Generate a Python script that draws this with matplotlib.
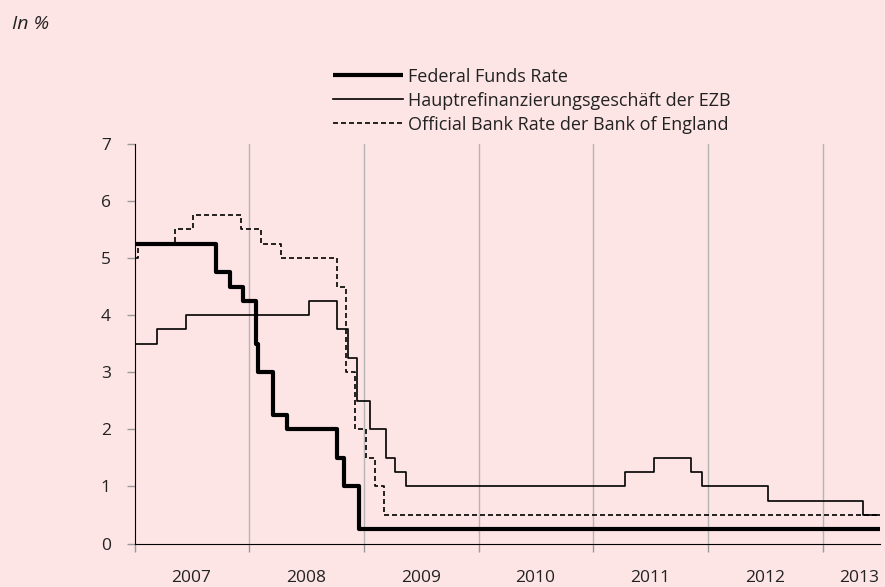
import datetime as dt
import matplotlib
matplotlib.use('Agg')
import matplotlib.pyplot as plt

# Leitzinsen, Stufen jeweils ab Datum gueltig
fed_dates = ['2007-01-01', '2007-09-18', '2007-10-31', '2007-12-11', '2008-01-22', '2008-01-30',
             '2008-03-18', '2008-04-30', '2008-10-08', '2008-10-29', '2008-12-16', '2013-07-01']
fed_rates = [5.25, 4.75, 4.5, 4.25, 3.5, 3.0, 2.25, 2.0, 1.5, 1.0, 0.25, 0.25]

ecb_dates = ['2007-01-01', '2007-03-14', '2007-06-13', '2008-07-09', '2008-10-08', '2008-11-12',
             '2008-12-10', '2009-01-21', '2009-03-11', '2009-04-08', '2009-05-13', '2011-04-13',
             '2011-07-13', '2011-11-09', '2011-12-14', '2012-07-11', '2013-05-08', '2013-07-01']
ecb_rates = [3.5, 3.75, 4.0, 4.25, 3.75, 3.25, 2.5, 2.0, 1.5, 1.25, 1.0, 1.25, 1.5, 1.25, 1.0, 0.75, 0.5, 0.5]

boe_dates = ['2007-01-01', '2007-01-11', '2007-05-10', '2007-07-05', '2007-12-06', '2008-02-07',
             '2008-04-10', '2008-10-08', '2008-11-06', '2008-12-04', '2009-01-08', '2009-02-05',
             '2009-03-05', '2013-07-01']
boe_rates = [5.0, 5.25, 5.5, 5.75, 5.5, 5.25, 5.0, 4.5, 3.0, 2.0, 1.5, 1.0, 0.5, 0.5]

years = [2007, 2008, 2009, 2010, 2011, 2012, 2013]
y_ticks = [0, 1, 2, 3, 4, 5, 6, 7]

def to_dates(lst):
    return [dt.datetime.strptime(d, '%Y-%m-%d') for d in lst]

plt.rcParams['font.family'] = ['Open Sans', 'DejaVu Sans']
bg = '#fde4e5'
txt = '#222222'

fig = plt.figure(figsize=(8.85, 5.87), dpi=100, facecolor=bg)
ax = fig.add_axes([0.152, 0.074, 0.842, 0.681], facecolor=bg)

ax.plot(to_dates(fed_dates), fed_rates, drawstyle='steps-post', color='black', lw=3.0,
        solid_capstyle='butt', label='Federal Funds Rate', zorder=4)
ax.plot(to_dates(ecb_dates), ecb_rates, drawstyle='steps-post', color='black', lw=1.2,
        label='Hauptrefinanzierungsgeschäft der EZB', zorder=3)
ax.plot(to_dates(boe_dates), boe_rates, drawstyle='steps-post', color='black', lw=1.2,
        dashes=(3, 1.8), label='Official Bank Rate der Bank of England', zorder=3)

start = dt.datetime(2007, 1, 1)
end = dt.datetime(2013, 7, 1)
ax.set_xlim(start, end)
ax.set_ylim(0, 7)

# Jahresgrenzen als Gitterlinien, Jahreszahlen in der Mitte
bounds = [dt.datetime(y, 1, 1) for y in years]
ax.set_xticks(bounds)
ax.set_xticklabels([])
mids = [dt.datetime(y, 7, 1) for y in years[:-1]] + [dt.datetime(2013, 4, 25)]
ax.set_xticks(mids, minor=True)
ax.set_xticklabels([str(y) for y in years], minor=True, fontsize=12.5, color=txt)
ax.tick_params(axis='x', which='minor', length=0, pad=19)
ax.tick_params(axis='x', which='major', length=6, color='#999999', width=1)
for b in bounds[1:]:
    ax.axvline(b, color='#b5b5b5', lw=1, zorder=1)

ax.set_yticks(y_ticks)
ax.set_yticklabels([str(v) for v in y_ticks], fontsize=12.5, color=txt)
ax.tick_params(axis='y', length=6, color='#999999', width=1, pad=11)

for s in ['top', 'right']:
    ax.spines[s].set_visible(False)
ax.spines['left'].set_color('black')
ax.spines['bottom'].set_color('black')

leg = fig.legend(loc='upper left', bbox_to_anchor=(0.366, 0.9), frameon=False,
                 fontsize=13, handlelength=3.9, handletextpad=0.28, labelspacing=0.33,
                 borderpad=0)
for t in leg.get_texts():
    t.set_color(txt)

fig.text(0.013, 0.975, 'In %', fontsize=14, style='italic', color=txt, va='top')

fig.savefig('out.png', dpi=100, facecolor=bg)
